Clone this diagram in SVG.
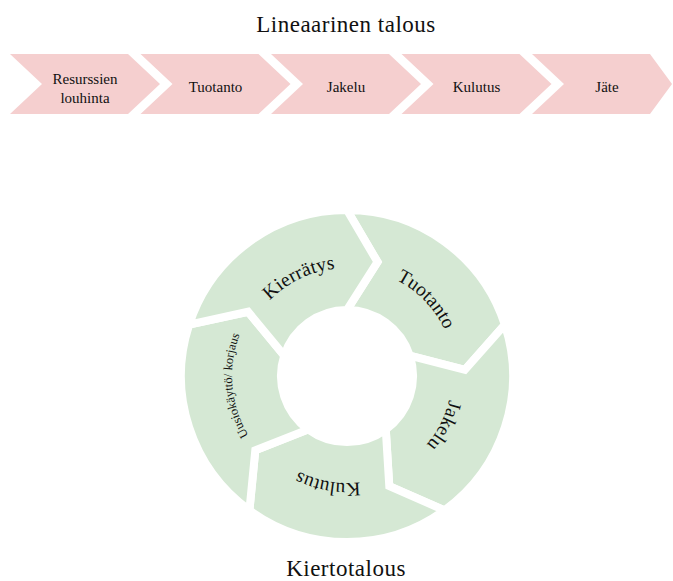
<svg xmlns="http://www.w3.org/2000/svg" width="673" height="581" viewBox="0 0 673 581">
<style>
text{font-family:"Liberation Serif","Times New Roman",serif;fill:#111}
.title{font-size:23px;letter-spacing:0.5px;text-anchor:middle}
.chev{fill:#f5cfcf}
.ctext{font-size:15px;text-anchor:middle}
.seg{fill:#d5e8d4;stroke:#fff;stroke-width:8;stroke-linejoin:miter}
.rtext{font-size:19.5px;letter-spacing:0.2px;text-anchor:middle}
.stext{font-size:12.5px;text-anchor:middle}
</style>
<defs>
<path id="arcKier" d="M239.6,387.3 A108,108 0 0 1 422.0,298.3"/>
<path id="arcTuot" d="M303.1,277.3 A108,108 0 0 1 444.1,423.3"/>
<path id="arcJak" d="M423.8,304.4 A105,105 0 0 1 334.2,480.2"/>
<path id="arcKul" d="M439.7,429.5 A107,107 0 0 1 241.6,394.6"/>
<path id="arcUus" d="M317.2,487.1 A115,115 0 0 1 298.4,271.8"/>
</defs>
<text class="title" x="346" y="31.5">Lineaarinen talous</text>
<g id="linear-1"><path class="chev" d="M10,54 L128,54 L160,84 L128,114 L10,114 L42,84 Z"/><text class="ctext" x="85"><tspan x="85" y="84">Resurssien</tspan><tspan x="85" y="102.5">louhinta</tspan></text></g>
<g id="linear-2"><path class="chev" d="M140.5,54 L258.5,54 L290.5,84 L258.5,114 L140.5,114 L172.5,84 Z"/><text class="ctext" x="215.5" y="92">Tuotanto</text></g>
<g id="linear-3"><path class="chev" d="M271,54 L389,54 L421,84 L389,114 L271,114 L303,84 Z"/><text class="ctext" x="346" y="92">Jakelu</text></g>
<g id="linear-4"><path class="chev" d="M401.5,54 L519.5,54 L551.5,84 L519.5,114 L401.5,114 L433.5,84 Z"/><text class="ctext" x="476.5" y="92">Kulutus</text></g>
<g id="linear-5"><path class="chev" d="M532,54 L650,54 L672,84 L650,114 L532,114 L564,84 Z"/><text class="ctext" x="607" y="92">Jäte</text></g>
<g id="cycle-tuotanto"><path class="seg" d="M347,210 A166,166 0 0 1 504.88,324.70 L464.84,369.82 L409.77,355.60 A66,66 0 0 0 347,310 L377.54,262.02 Z"/><text class="rtext"><textPath href="#arcTuot" startOffset="50%">Tuotanto</textPath></text></g>
<g id="cycle-jakelu"><path class="seg" d="M504.88,324.70 A166,166 0 0 1 444.57,510.30 L389.29,486.16 L385.79,429.40 A66,66 0 0 0 409.77,355.60 L464.84,369.82 Z"/><text class="rtext"><textPath href="#arcJak" startOffset="50%">Jakelu</textPath></text></g>
<g id="cycle-kulutus"><path class="seg" d="M444.57,510.30 A166,166 0 0 1 249.43,510.30 L255.30,450.26 L308.21,429.40 A66,66 0 0 0 385.79,429.40 L389.29,486.16 Z"/><text class="rtext"><textPath href="#arcKul" startOffset="50%">Kulutus</textPath></text></g>
<g id="cycle-uusiokaytto"><path class="seg" d="M249.43,510.30 A166,166 0 0 1 189.12,324.70 L248.04,311.73 L284.23,355.60 A66,66 0 0 0 308.21,429.40 L255.30,450.26 Z"/><text class="stext"><textPath href="#arcUus" startOffset="50%">Uusiokäyttö/ korjaus</textPath></text></g>
<g id="cycle-kierratys"><path class="seg" d="M189.12,324.70 A166,166 0 0 1 347,210 L377.54,262.02 L347,310 A66,66 0 0 0 284.23,355.60 L248.04,311.73 Z"/><text class="rtext"><textPath href="#arcKier" startOffset="50%">Kierrätys</textPath></text></g>
<g id="connectors"></g>
<text class="title" x="346" y="575.5">Kiertotalous</text>
</svg>
